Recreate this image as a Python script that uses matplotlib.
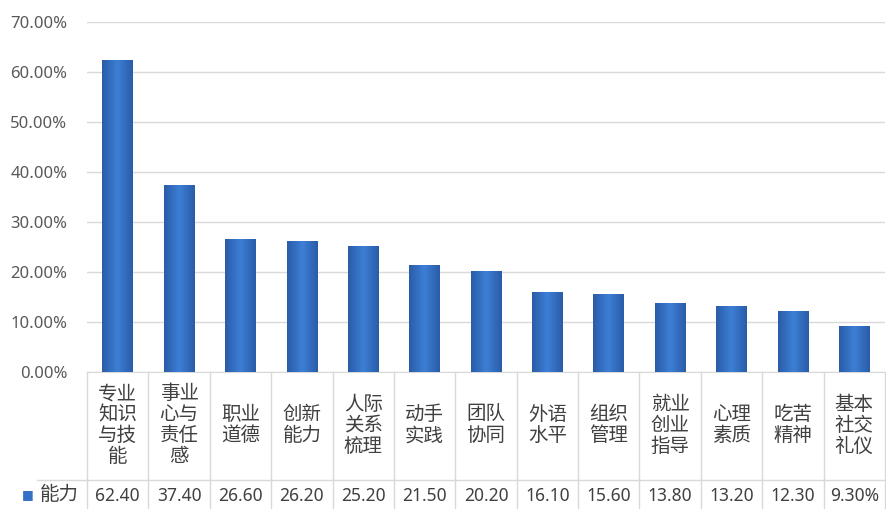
import numpy as np
import matplotlib.pyplot as plt
from matplotlib.colors import LinearSegmentedColormap

plt.rcParams['font.family'] = ['Noto Sans CJK SC', 'DejaVu Sans']

categories = ['专业\n知识\n与技\n能', '事业\n心与\n责任\n感', '职业\n道德', '创新\n能力',
              '人际\n关系\n梳理', '动手\n实践', '团队\n协同', '外语\n水平', '组织\n管理',
              '就业\n创业\n指导', '心理\n素质', '吃苦\n精神', '基本\n社交\n礼仪']
values = [62.40, 37.40, 26.60, 26.20, 25.20, 21.50, 20.20, 16.10, 15.60, 13.80, 13.20, 12.30, 9.30]
table_labels = ['62.40', '37.40', '26.60', '26.20', '25.20', '21.50', '20.20', '16.10',
                '15.60', '13.80', '13.20', '12.30', '9.30%']
series_name = '能力'

W, H = 887, 509
fig = plt.figure(figsize=(W / 100, H / 100), dpi=100)
ax = fig.add_axes([87 / W, (H - 372) / H, (885 - 87) / W, 350 / H])

x = np.arange(len(values))
y = np.array(values) / 100
bars = ax.bar(x, y, width=0.5, color='#3470C6', zorder=2)

# horizontal gradient inside each bar
cmap = LinearSegmentedColormap.from_list('g', ['#2A5CA8', '#3D7FD6', '#2A5CA8'])
grad = np.linspace(0, 1, 64).reshape(1, -1)
for b in bars:
    x0, w, h = b.get_x(), b.get_width(), b.get_height()
    im = ax.imshow(grad, cmap=cmap, extent=[x0, x0 + w, 0, h], aspect='auto', zorder=3)
    im.set_clip_path(b)

ax.set_xlim(-0.5, len(values) - 0.5)
ax.set_ylim(0, 0.7)
ax.set_yticks(np.arange(0, 0.71, 0.1))
ax.set_yticklabels([f'{v:.2f}%' for v in np.arange(0, 71, 10)], fontsize=12,
                   color='#595959', family=['Noto Sans', 'DejaVu Sans'])
ax.tick_params(axis='y', length=0, pad=14)
ax.set_xticks([])
ax.grid(axis='y', color='#D9D9D9', linewidth=1, zorder=0)
for s in ['top', 'right', 'left']:
    ax.spines[s].set_visible(False)
ax.spines['bottom'].set_color('#D9D9D9')

# data table below the axis
tr = ax.get_xaxis_transform()
line_kw = dict(color='#D9D9D9', linewidth=1, clip_on=False, transform=tr)
for xb in np.arange(-0.5, len(values), 1.0):
    ax.plot([xb, xb], [0, -0.40], **line_kw)
ax.plot([-1.32, len(values) - 0.5], [-0.309, -0.309], **line_kw)

for xi, cat, lab in zip(x, categories, table_labels):
    ax.text(xi, -0.152, cat, transform=tr, ha='center', va='center', fontsize=14,
            color='#404040', linespacing=1.0, clip_on=False)
    ax.text(xi, -0.353, lab, transform=tr, ha='center', va='center', fontsize=12.5,
            color='#404040', family=['Noto Sans', 'DejaVu Sans'], clip_on=False)

fig.text(22 / W, (H - 495) / H, '■', color='#3470C6', fontsize=9, ha='left', va='center',
         family=['DejaVu Sans'])
fig.text(40 / W, (H - 495) / H, series_name, color='#404040', fontsize=14, ha='left', va='center')

fig.savefig('out.png', dpi=100)
